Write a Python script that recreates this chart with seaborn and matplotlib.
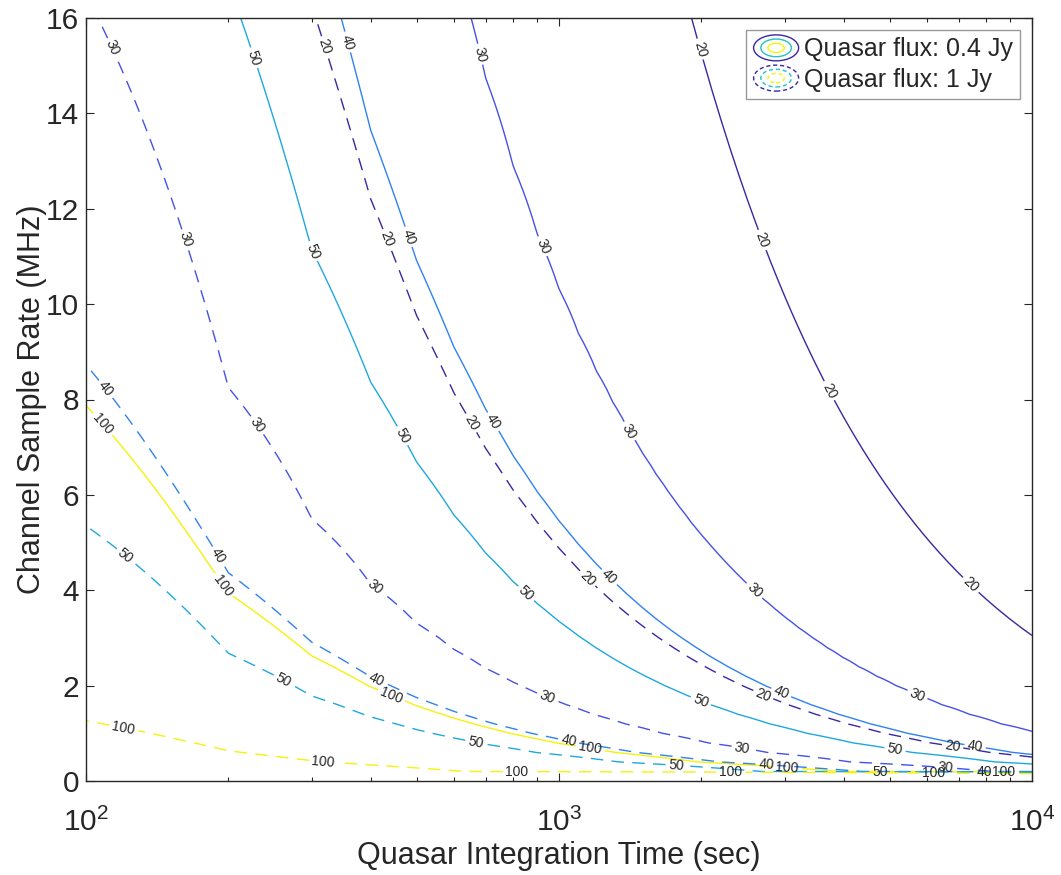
import numpy as np
import matplotlib
matplotlib.use("Agg")
import matplotlib.pyplot as plt
import seaborn as sns
from matplotlib.legend_handler import HandlerBase
from matplotlib.patches import Ellipse
from matplotlib.lines import Line2D
from matplotlib.ticker import LogLocator, NullFormatter

# ---------------- data ----------------
time_sec = np.arange(100, 10001, 100)          # integration-time grid (sec)
rate_mhz = np.arange(0.0, 16.0001, 0.2)        # channel sample-rate grid (MHz)
fluxes_jy = [0.4, 1.0]
flux_labels = ["Quasar flux: 0.4 Jy", "Quasar flux: 1 Jy"]
contour_levels = [20, 30, 40, 50, 100]
# flux^2 * time * rate found along each contour level
level_products = [4880, 1650, 873, 535, 126]
level_colors = ["#3b27a0", "#4551e6", "#2f82f0", "#1ea8df", "#f5f20c"]

# label anchor points (data coords) for the inline contour labels
label_points = {
    0.4: {
        20: [(1958, 15.33), (2647, 11.32), (2713, 7.46), (7322, 4.05)],
        30: [(667, 15.22), (912, 11.19), (1399, 7.32), (2571, 3.96), (5656, 1.70)],
        40: [(349, 15.47), (470, 11.38), (711, 7.48), (1251, 4.19), (2933, 1.80), (7575, 0.71)],
        50: [(219, 15.12), (299, 11.09), (461, 7.21), (839, 3.86), (1987, 1.64), (5133, 0.65)],
        100: [(108, 7.46), (196, 4.11), (441, 1.76), (1163, 0.69), (3034, 0.25), (8727, 0.17)],
    },
    1.0: {
        20: [(317, 15.39), (427, 11.34), (645, 7.48), (1124, 4.15), (2700, 1.80), (6774, 0.65)],
        30: [(111, 15.33), (158, 11.32), (225, 7.40), (402, 4.00), (943, 1.76), (2437, 0.67), (6546, 0.25)],
        40: [(108, 8.16), (187, 4.68), (408, 2.08), (1045, 0.78), (2740, 0.29), (7915, 0.17)],
        50: [(120, 4.68), (257, 1.99), (664, 0.75), (1768, 0.29), (4771, 0.17)],
        100: [(120, 1.11), (317, 0.38), (815, 0.17), (2310, 0.17), (6205, 0.17)],
    },
}

# ---------------- style ----------------
sns.set_theme(style="ticks")
plt.rcParams["font.family"] = ["Liberation Sans", "DejaVu Sans"]
plt.rcParams["mathtext.fontset"] = "custom"
plt.rcParams["mathtext.rm"] = "Liberation Sans"
plt.rcParams["mathtext.it"] = "Liberation Sans:italic"
plt.rcParams["mathtext.bf"] = "Liberation Sans:bold"
plt.rcParams["lines.dashed_pattern"] = [9, 6]
TXT = "#262626"

fig = plt.figure(figsize=(10.61, 8.75), dpi=100)
ax = fig.add_axes([86 / 1061, 1 - 781 / 875, 946 / 1061, 763 / 875])
ax.set_xscale("log")

T, R = np.meshgrid(time_sec, rate_mhz)
lp = np.log(np.array(level_products[::-1], float))
ll = np.log(np.array(contour_levels[::-1], float))


def level_field(u):
    lu = np.log(u)
    z = np.interp(lu, lp, ll)
    s_lo = (ll[1] - ll[0]) / (lp[1] - lp[0])
    s_hi = (ll[-1] - ll[-2]) / (lp[-1] - lp[-2])
    lo = lu < lp[0]
    hi = lu > lp[-1]
    z[lo] = ll[0] + s_lo * (lu[lo] - lp[0])
    z[hi] = ll[-1] + s_hi * (lu[hi] - lp[-1])
    return np.exp(z)


sets = []
for flux, ls in zip(fluxes_jy, ["solid", "dashed"]):
    Z = level_field(flux ** 2 * T * np.maximum(R, 1e-3))
    for lev, col in zip(contour_levels, level_colors):
        cs = ax.contour(T, R, Z, levels=[lev], colors=[col], linewidths=1.0,
                        linestyles=ls)
        sets.append((cs, label_points[flux][lev]))

ax.set_xlim(100, 10000)
ax.set_ylim(0, 16)

for cs, pts in sets:
    cs.clabel(fontsize=10, inline=True, inline_spacing=3, fmt="%d",
              colors=TXT, manual=pts)

# axes cosmetics
ax.set_yticks(np.arange(0, 17, 2))
ax.xaxis.set_major_locator(LogLocator(base=10, numticks=10))
ax.xaxis.set_minor_locator(LogLocator(base=10, subs=np.arange(2, 10), numticks=20))
ax.xaxis.set_minor_formatter(NullFormatter())
ax.tick_params(which="both", direction="in", top=True, right=True,
               colors=TXT, labelcolor=TXT, width=0.8)
ax.tick_params(which="major", length=6, labelsize=21.5)
ax.tick_params(which="minor", length=3)
ax.tick_params(axis="x", which="major", pad=19)
ax.tick_params(axis="y", which="major", pad=5)
for s in ax.spines.values():
    s.set_color(TXT)
    s.set_linewidth(1.0)
ax.set_xlabel("Quasar Integration Time (sec)", fontsize=22, color=TXT)
ax.set_ylabel("Channel Sample Rate (MHz)", fontsize=22, color=TXT)
ax.xaxis.set_label_coords(0.5, -0.079)
ax.yaxis.set_label_coords(-0.0415, 0.5)
ax.grid(False)


class ContourIcon(HandlerBase):
    def __init__(self, ls):
        super().__init__()
        self.ls = ls

    def create_artists(self, legend, orig_handle, xdescent, ydescent, width,
                       height, fontsize, trans):
        cx = width / 2 - xdescent
        cy = height / 2 - ydescent
        arts = []
        for sc, col in [(1.0, "#3b27a0"), (0.68, "#22c4c6"), (0.36, "#f5f20c")]:
            e = Ellipse((cx, cy), width * sc, height * 1.25 * sc, fill=False,
                        edgecolor=col, linewidth=1.0, linestyle=self.ls,
                        transform=trans)
            arts.append(e)
        return arts


h1 = Line2D([], [])
h2 = Line2D([], [])
leg = ax.legend([h1, h2], flux_labels, loc="upper right",
                bbox_to_anchor=(0.9873, 0.9843), borderaxespad=0,
                handler_map={h1: ContourIcon("solid"), h2: ContourIcon((0, (3, 2)))},
                fontsize=18, frameon=True, fancybox=False, handlelength=1.8,
                handleheight=0.9, handletextpad=0.2, borderpad=0.3,
                labelspacing=0.25)
leg.get_frame().set_edgecolor("#808080")
leg.get_frame().set_linewidth(1.0)
for t in leg.get_texts():
    t.set_color(TXT)

fig.savefig("out.png", dpi=100)
